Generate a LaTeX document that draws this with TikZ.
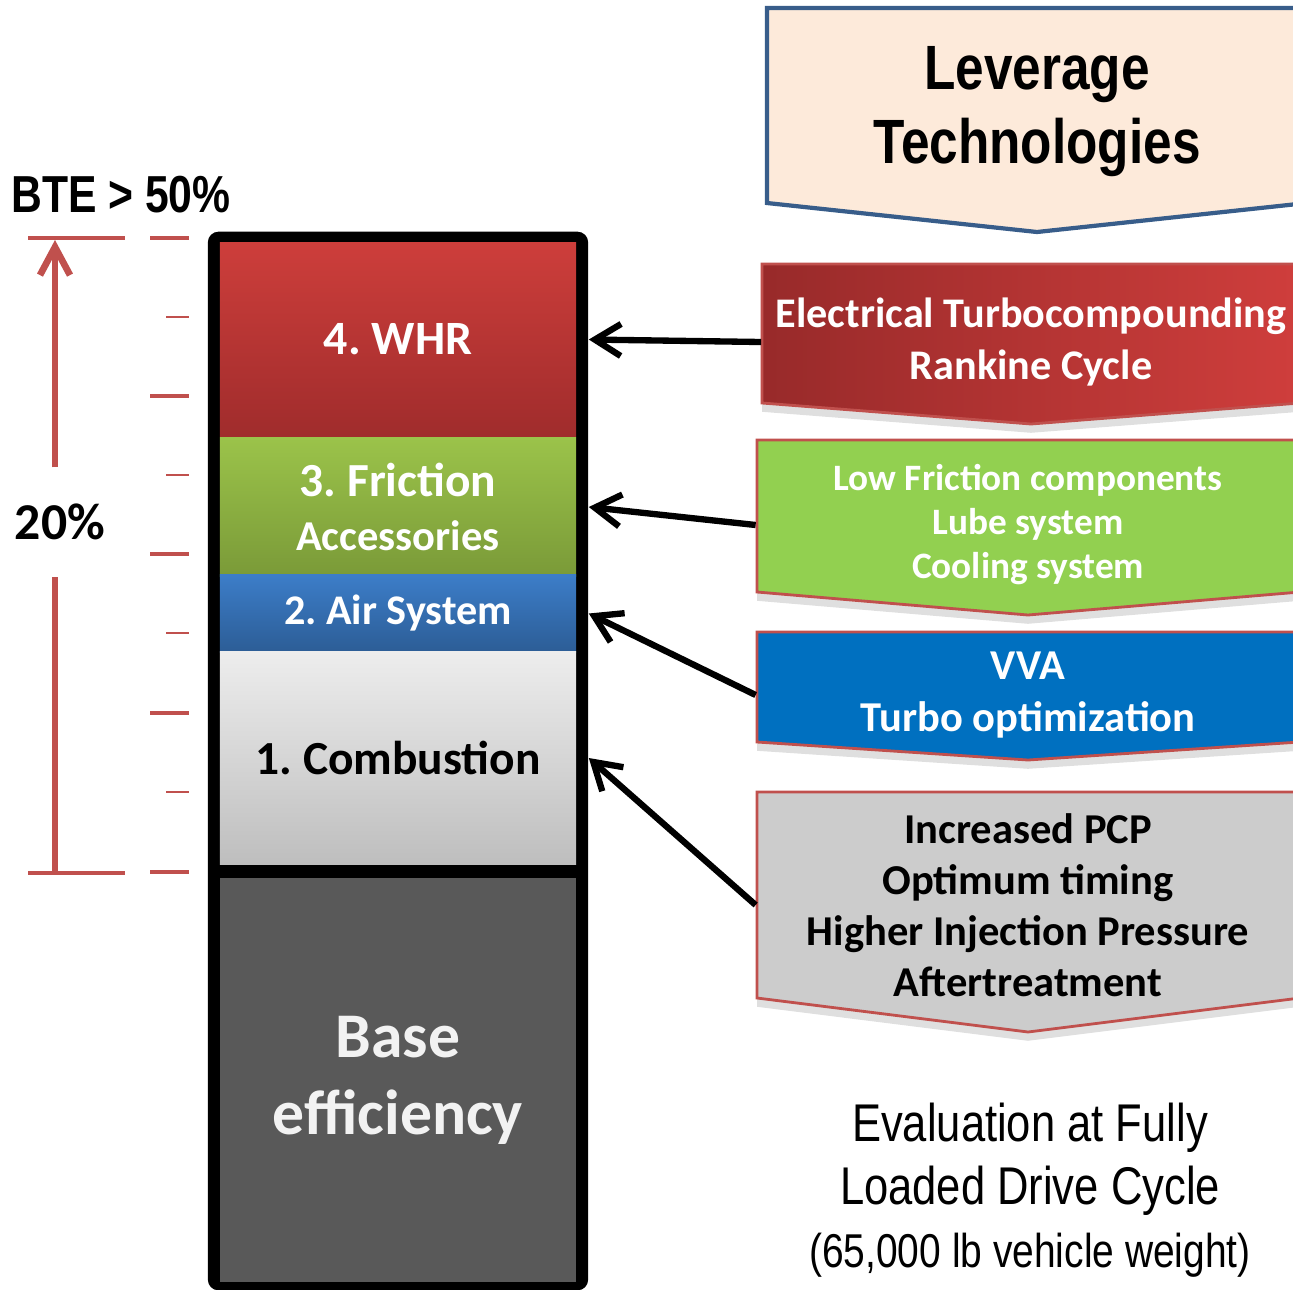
\documentclass[tikz,border=0pt]{standalone}
\usepackage{fontspec}
\setmainfont{Carlito}
\newfontfamily\narrowfont[FakeStretch=0.82]{Liberation Sans}
\usetikzlibrary{arrows.meta,backgrounds,shadows}

\definecolor{scalered}{HTML}{C0504D}
\definecolor{whrtop}{HTML}{CD3E3B}
\definecolor{whrbot}{HTML}{A02C2C}
\definecolor{fricltop}{HTML}{9BC34A}
\definecolor{fricbot}{HTML}{7A9A38}
\definecolor{airtop}{HTML}{3C7DC8}
\definecolor{airbot}{HTML}{2C5D96}
\definecolor{combtop}{HTML}{EDEDED}
\definecolor{combbot}{HTML}{BEBEBE}
\definecolor{basegray}{HTML}{595959}
\definecolor{levfill}{HTML}{FDEADA}
\definecolor{levline}{HTML}{385D8A}
\definecolor{etcleft}{HTML}{982A2A}
\definecolor{etcright}{HTML}{CF3E3C}
\definecolor{lowfgreen}{HTML}{92D050}
\definecolor{vvablue}{HTML}{0070C0}
\definecolor{pcpgray}{HTML}{CCCCCC}

\tikzset{
  seg/.style={minimum width=3.56cm, inner sep=0pt, text=white, align=center},
  techbox/.style={draw=scalered, line width=0.8pt,
    drop shadow={shadow xshift=0pt, shadow yshift=-2.5pt, opacity=0.25}},
  techtext/.style={align=center, inner sep=0pt, text=white},
  pointer/.style={line width=1.8pt, -{Straight Barb[length=0.26cm, width=0.32cm]}},
  scaleline/.style={scalered, line width=1.9pt},
  scalebar/.style={scalered, line width=1.4pt},
}

\begin{document}
\frenchspacing
\begin{tikzpicture}[x=0.01cm, y=-0.01cm]
\useasboundingbox (0,0) rectangle (1293,1290);

% efficiency bar
\node[fill=black, rounded corners=3pt, minimum width=3.8cm, minimum height=10.58cm, inner sep=0pt] (frame) at (398,761) {};
\node[seg, top color=whrtop, bottom color=whrbot, minimum height=1.93cm,
      font=\fontsize{13.6pt}{16pt}\selectfont\bfseries] (whr) at (398,339.5) {4. WHR};
\node[seg, top color=fricltop, bottom color=fricbot, minimum height=1.39cm,
      font=\fontsize{12.1pt}{15.4pt}\selectfont\bfseries] (fric) at (398,507)
      {{\fontsize{13.5pt}{15.4pt}\selectfont 3. Friction}\\Accessories};
\node[seg, top color=airtop, bottom color=airbot, minimum height=0.77cm,
      font=\fontsize{12pt}{14pt}\selectfont\bfseries] (air) at (398,613.5) {2. Air System};
\node[seg, top color=combtop, bottom color=combbot, minimum height=2.12cm, text=black,
      font=\fontsize{13.5pt}{16pt}\selectfont\bfseries] (comb) at (398,758) {1. Combustion};
\node[seg, fill=basegray, minimum height=4.04cm, text=white!95!black,
      font=\fontsize{18.1pt}{21.9pt}\selectfont\bfseries] (base) at (398,1080) {Base\\efficiency};

% scale on the left
\node[font=\narrowfont\fontsize{14.8pt}{17pt}\selectfont\bfseries, inner sep=0pt] (bte) at (121,195) {BTE > 50\%};
\coordinate (scaletop) at (55,240);
\coordinate (scalebot) at (55,873);
\node[font=\fontsize{14.7pt}{17pt}\selectfont\bfseries, minimum height=1.08cm, inner sep=0pt] (pct) at (60,522) {20\%};
\draw[scaleline] (scalebot) -- (pct.south -| scalebot);
\draw[scaleline, -{Straight Barb[length=0.28cm, width=0.3cm]}] (pct.north -| scalebot) -- (scaletop);
\draw[scalebar] (28,238) -- (125,238);
\draw[scalebar] (28,873) -- (125,873);
\foreach \y in {238,396,554,713,872}
  \draw[scalebar] (150,\y) -- (189,\y);
\foreach \y in {317,475,633,792}
  \draw[scalered, line width=0.6pt] (166,\y) -- (189,\y);

% technology boxes
\node[font=\narrowfont\fontsize{17.8pt}{21pt}\selectfont\bfseries, align=center, minimum width=5.4cm] (lev) at (1037,112) {Leverage\\Technologies};
\node[techtext, minimum width=5.38cm, font=\fontsize{12pt}{14.8pt}\selectfont\bfseries] (etc) at (1031,342)
  {Electrical Turbocompounding\\Rankine Cycle};
\node[techtext, minimum width=5.43cm, font=\fontsize{10.6pt}{12.5pt}\selectfont\bfseries] (lowf) at (1028,525)
  {Low Friction components\\Lube system\\Cooling system};
\node[techtext, minimum width=5.43cm, font=\fontsize{12.1pt}{14.8pt}\selectfont\bfseries] (vva) at (1028,695)
  {VVA\\Turbo optimization};
\node[techtext, minimum width=5.43cm, text=black, font=\fontsize{12.1pt}{14.5pt}\selectfont\bfseries] (pcp) at (1028,905)
  {Increased PCP\\Optimum timing\\Higher Injection Pressure\\Aftertreatment};

\begin{scope}[on background layer]
  \draw[levline, fill=levfill, line width=1.2pt] (767,8) -- (1307,8) -- (1307,203) -- (1037,232) -- (767,203) -- cycle;
  \draw[techbox, left color=etcleft, right color=etcright] (762,264) -- (1300,264) -- (1300,403) -- (1031,424) -- (762,403) -- cycle;
  \draw[techbox, fill=lowfgreen] (757,440) -- (1300,440) -- (1300,592) -- (1028,615) -- (757,592) -- cycle;
  \draw[techbox, fill=vvablue] (757,632) -- (1300,632) -- (1300,742) -- (1028,760) -- (757,742) -- cycle;
  \draw[techbox, fill=pcpgray] (757,792) -- (1300,792) -- (1300,998) -- (1028,1032) -- (757,998) -- cycle;
\end{scope}

% connectors
\draw[pointer] (etc.west) -- (whr.east -| frame.east);
\draw[pointer] (lowf.west) -- (fric.east -| frame.east);
\draw[pointer] (vva.west) -- (air.east -| frame.east);
\draw[pointer] (pcp.west) -- (comb.east -| frame.east);

\node[font=\narrowfont\fontsize{15.1pt}{17.9pt}\selectfont, align=center] (evalnote) at (1030,1190)
  {Evaluation at Fully\\Loaded Drive Cycle\\{\fontsize{13.5pt}{17.9pt}\selectfont (65,000 lb vehicle weight)}};
\end{tikzpicture}
\end{document}
